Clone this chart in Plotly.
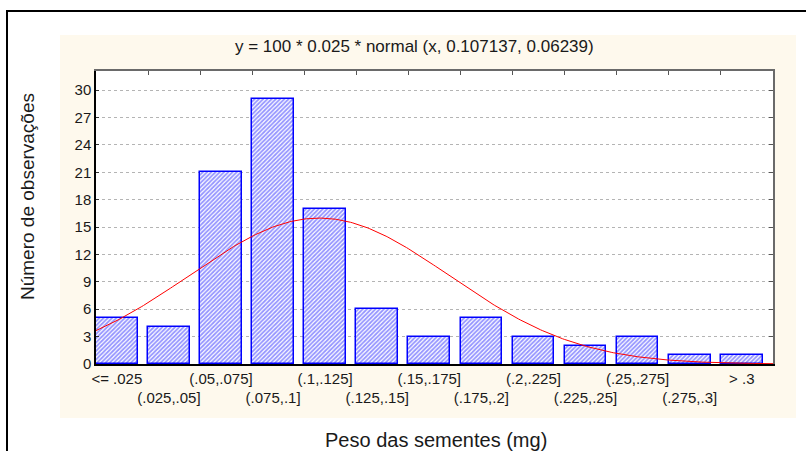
import numpy as np
import plotly.graph_objects as go

# Histogram of seed weights (mg), 13 classes of width 0.025
categories = ["<= .025", "(.025,.05]", "(.05,.075]", "(.075,.1]", "(.1,.125]",
              "(.125,.15]", "(.15,.175]", "(.175,.2]", "(.2,.225]", "(.225,.25]",
              "(.25,.275]", "(.275,.3]", "> .3"]
counts = [5, 4, 21, 29, 17, 6, 3, 5, 3, 2, 3, 1, 1]
y_ticks = [0, 3, 6, 9, 12, 15, 18, 21, 24, 27, 30]

# Fitted normal curve: y = N * bin_width * normal(x, mean, sd)
n_obs = 100
bin_width = 0.025
mean = 0.107137
sd = 0.06239

W, H = 806, 451
L, R, T, B = 96, 773, 71, 364
pw, ph = R - L, B - T


def px(x):
    return (x - L) / pw


def py(y):
    return (B - y) / ph


FONT = "Arial, Liberation Sans, Helvetica, sans-serif"
TXT = "#1a1a1a"

slots = np.arange(len(categories))
xs = np.linspace(0, len(categories) * bin_width, 400)
curve = n_obs * bin_width * np.exp(-0.5 * ((xs - mean) / sd) ** 2) / (sd * np.sqrt(2 * np.pi))

fig = go.Figure()
fig.add_trace(go.Bar(
    x=slots, y=counts, width=0.8, offset=0,
    marker=dict(color="white",
                line=dict(color="#0000ff", width=1.5),
                pattern=dict(shape="/", fgcolor="#2a2aff", bgcolor="white",
                             size=3, solidity=0.6)),
    showlegend=False, hoverinfo="skip",
))
fig.add_trace(go.Scatter(
    x=xs / bin_width, y=curve, mode="lines",
    line=dict(color="#ff0000", width=1), showlegend=False, hoverinfo="skip",
))

ticktext = [c if i % 2 == 0 else "<br>" + c for i, c in enumerate(categories)]

fig.update_layout(
    width=W, height=H,
    margin=dict(l=L, r=W - R, t=T, b=H - B, pad=0),
    paper_bgcolor="white", plot_bgcolor="white",
    font=dict(family=FONT, size=15, color=TXT),
    bargap=0,
    xaxis=dict(range=[0, len(categories)], tickmode="array",
               tickvals=slots + 0.4, ticktext=ticktext, ticks="", tickangle=0,
               showgrid=False, zeroline=False, showline=True,
               linecolor="black", linewidth=1.5,
               tickfont=dict(size=15, color=TXT)),
    xaxis2=dict(range=[0, len(categories)], overlaying="x", side="top",
                tickmode="array", tickvals=list(range(1, len(categories))),
                ticks="inside", ticklen=4, tickcolor="#555555",
                showticklabels=False, showgrid=False, zeroline=False,
                showline=True, linecolor="#6a6a6a", linewidth=1.5),
    yaxis=dict(range=[0, 32.1], tickmode="array", tickvals=y_ticks,
               ticks="inside", ticklen=3, tickcolor="#333333",
               showgrid=True, gridcolor="#b4b4b4", griddash="dot", gridwidth=1,
               zeroline=False, showline=True, linecolor="black", linewidth=1.5,
               tickfont=dict(size=15, color=TXT)),
    yaxis2=dict(range=[0, 32.1], overlaying="y", side="right",
                tickmode="array", tickvals=y_ticks, ticks="inside", ticklen=4,
                tickcolor="#555555", showticklabels=False, showgrid=False,
                zeroline=False, showline=True, linecolor="#6a6a6a", linewidth=2),
)

# invisible helper trace so the top/right axes are drawn
fig.add_trace(go.Scatter(x=[0], y=[0], xaxis="x2", yaxis="y2", mode="markers",
                         marker=dict(opacity=0), showlegend=False, hoverinfo="skip"))

fig.update_layout(shapes=[
    # cream panel behind the chart
    dict(type="rect", xref="paper", yref="paper", layer="below",
         x0=px(60), x1=px(796), y0=py(418), y1=py(35),
         fillcolor="#fef9ed", line=dict(width=0)),
    # white plotting area
    dict(type="rect", xref="paper", yref="paper", layer="below",
         x0=0, x1=1, y0=0, y1=1, fillcolor="white", line=dict(width=0)),
    # outer frame
    dict(type="rect", xref="paper", yref="paper", layer="above",
         x0=px(7), x1=px(830), y0=py(480), y1=py(11),
         fillcolor="rgba(0,0,0,0)", line=dict(color="black", width=2)),
])

fig.update_layout(annotations=[
    dict(text="y = 100 * 0.025 * normal (x, 0.107137, 0.06239)",
         xref="paper", yref="paper", x=px(414), y=py(47),
         xanchor="center", yanchor="middle", showarrow=False,
         font=dict(size=17, color=TXT, family=FONT)),
    dict(text="Peso das sementes (mg)",
         xref="paper", yref="paper", x=px(436), y=py(440),
         xanchor="center", yanchor="middle", showarrow=False,
         font=dict(size=20, color=TXT, family=FONT)),
    dict(text="Número de observações", textangle=-90,
         xref="paper", yref="paper", x=px(27), y=py(197),
         xanchor="center", yanchor="middle", showarrow=False,
         font=dict(size=19, color=TXT, family=FONT)),
])

fig.write_html("out.html", config={"displayModeBar": False})
